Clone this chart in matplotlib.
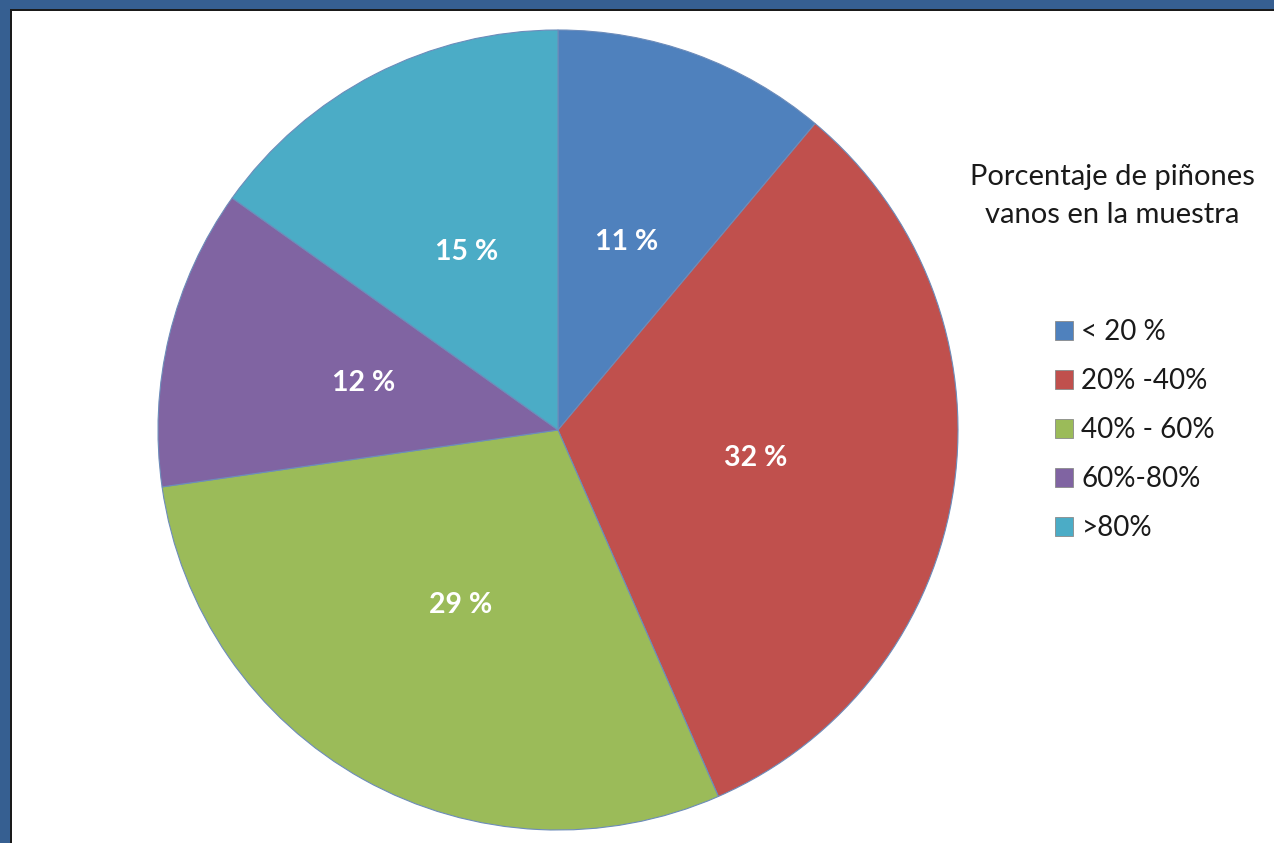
import matplotlib
matplotlib.use("Agg")
import matplotlib.pyplot as plt
from matplotlib.patches import Rectangle, Patch

# rangos de piñones vanos y su participación en la muestra
rangos = ["< 20 %", "20% -40%", "40% - 60%", "60%-80%", ">80%"]
valores = [11, 32, 29, 12, 15]
colores = ["#4F81BD", "#C0504D", "#9BBB59", "#8064A2", "#4BACC6"]
titulo = "Porcentaje de piñones\nvanos en la muestra"

plt.rcParams["font.family"] = ["Lato", "DejaVu Sans"]

W, H = 1274, 843
fig = plt.figure(figsize=(W / 100, H / 100), dpi=100)
fig.patch.set_facecolor("white")

# marco azul con filete oscuro (izquierda y arriba)
fig.patches.append(Rectangle((0, 0), 10 / W, 1, transform=fig.transFigure,
                             facecolor="#365F91", edgecolor="none", zorder=0))
fig.patches.append(Rectangle((0, 1 - 9 / H), 1, 9 / H, transform=fig.transFigure,
                             facecolor="#365F91", edgecolor="none", zorder=0))
fig.patches.append(Rectangle((10 / W, 0), 2 / W, 1 - 9 / H, transform=fig.transFigure,
                             facecolor="#1a1a1a", edgecolor="none", zorder=0))
fig.patches.append(Rectangle((10 / W, 1 - 11 / H), 1 - 10 / W, 2 / H, transform=fig.transFigure,
                             facecolor="#1a1a1a", edgecolor="none", zorder=0))

# torta: centro (558, 430) px, radio 400 px
ax = fig.add_axes([158 / W, 13 / H, 800 / W, 800 / H])
total = sum(valores)
wedges, textos, pcts = ax.pie(
    valores, colors=colores, startangle=90, counterclock=False,
    autopct=lambda p: "%d %%" % round(p * total / 100), pctdistance=0.5,
    wedgeprops=dict(edgecolor="#6d8cba", linewidth=0.8, clip_on=False),
    textprops=dict(color="white", fontsize=20.5, fontweight="bold"),
)
ax.set_xlim(-1, 1)
ax.set_ylim(-1, 1)
ax.set_aspect("equal")

fig.text(1112 / W, 1 - 196 / H, titulo, ha="center", va="center",
         fontsize=21, linespacing=1.6, color="#1a1a1a")

handles = [Patch(facecolor=c, edgecolor="#8a8a8a", linewidth=0.6) for c in colores]
fig.legend(handles, rangos, loc="upper left", bbox_to_anchor=(1055 / W, 1 - 319 / H),
           frameon=False, fontsize=20, handlelength=0.65, handleheight=0.65,
           handletextpad=0.3, labelspacing=0.83, borderpad=0, borderaxespad=0,
           labelcolor="#1a1a1a")

fig.savefig("out.png", dpi=100)
